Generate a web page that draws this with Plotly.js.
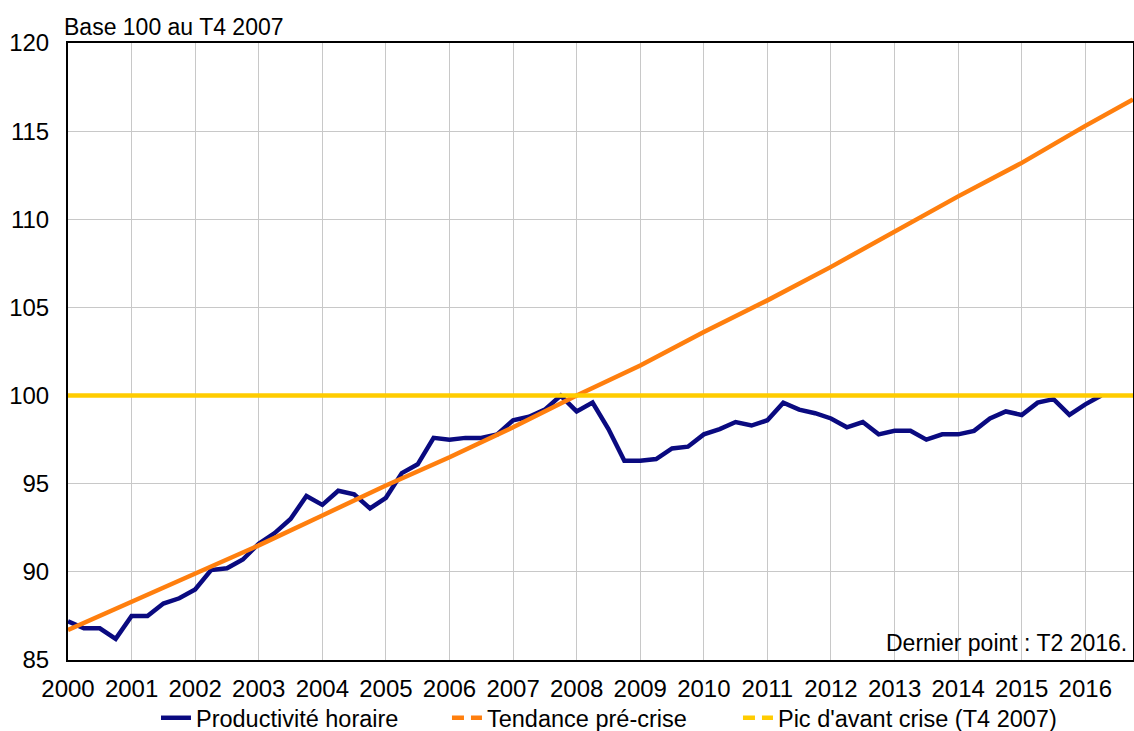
<!DOCTYPE html>
<html>
<head>
<meta charset="utf-8">
<script src="https://cdn.plot.ly/plotly-3.0.1.min.js"></script>
<style>
  html, body { margin: 0; padding: 0; background: #fff; }
  #chart { width: 1134px; height: 731px; }
</style>
</head>
<body>
<div id="chart"></div>
<script>
// ---- Data ----
const years = [2000, 2001, 2002, 2003, 2004, 2005, 2006, 2007, 2008, 2009, 2010, 2011, 2012, 2013, 2014, 2015, 2016];
const quarterNames = ["T1", "T2", "T3", "T4"];

// Productivité horaire, quarterly from T1 2000 to T2 2016 (base 100 = T4 2007)
const productivite = [
  87.2, 86.8, 86.8, 86.2,
  87.5, 87.5, 88.2, 88.5,
  89.0, 90.1, 90.2, 90.7,
  91.6, 92.2, 93.0, 94.3,
  93.8, 94.6, 94.4, 93.6,
  94.2, 95.6, 96.1, 97.6,
  97.5, 97.6, 97.6, 97.8,
  98.6, 98.8, 99.2, 100.0,
  99.1, 99.6, 98.1, 96.3,
  96.3, 96.4, 97.0, 97.1,
  97.8, 98.1, 98.5, 98.3,
  98.6, 99.6, 99.2, 99.0,
  98.7, 98.2, 98.5, 97.8,
  98.0, 98.0, 97.5, 97.8,
  97.8, 98.0, 98.7, 99.1,
  98.9, 99.6, 99.8, 98.9,
  99.5, 100.0
];

// Tendance pré-crise, read at T1 of each year, plus the last point (T4 2016)
const tendanceLabels = ["T1 2000", "T1 2001", "T1 2002", "T1 2003", "T1 2004", "T1 2005", "T1 2006", "T1 2007",
  "T1 2008", "T1 2009", "T1 2010", "T1 2011", "T1 2012", "T1 2013", "T1 2014", "T1 2015", "T1 2016", "T4 2016"];
const tendance = [86.7, 88.3, 89.9, 91.5, 93.2, 94.9, 96.5, 98.2,
  100.0, 101.7, 103.6, 105.4, 107.3, 109.3, 111.3, 113.2, 115.3, 116.8];

// Pic d'avant crise (T4 2007)
const picLabels = ["T1 2000", "T4 2016"];
const pic = [100, 100];

const yTicks = [85, 90, 95, 100, 105, 110, 115, 120];

// ---- Derived categories ----
const quarters = [];
years.forEach(y => quarterNames.forEach(q => quarters.push(q + " " + y)));
const prodX = quarters.slice(0, productivite.length);
const yearTickVals = years.map(y => "T1 " + y);
const yearTickText = years.map(y => String(y));

const FONT = "Liberation Sans, Arial, sans-serif";
const BLUE = "#0a0a80";
const ORANGE = "#ff7f0e";
const YELLOW = "#ffcc00";

const traces = [
  { x: prodX, y: productivite, type: "scatter", mode: "lines", name: "Productivité horaire",
    line: { color: BLUE, width: 4.5 }, showlegend: true },
  { x: tendanceLabels, y: tendance, type: "scatter", mode: "lines", name: "Tendance pré-crise",
    line: { color: ORANGE, width: 4.5 }, showlegend: false },
  { x: picLabels, y: pic, type: "scatter", mode: "lines", name: "Pic d'avant crise (T4 2007)",
    line: { color: YELLOW, width: 4.5 }, showlegend: false },
  // legend entries (dashed samples as in the reference legend)
  { x: [null], y: [null], type: "scatter", mode: "lines", name: "Tendance pré-crise",
    line: { color: ORANGE, width: 4.5, dash: "12px,7px" }, showlegend: true },
  { x: [null], y: [null], type: "scatter", mode: "lines", name: "Pic d'avant crise (T4 2007)",
    line: { color: YELLOW, width: 4.5, dash: "12px,7px" }, showlegend: true, legendwidth: 300 }
];

const layout = {
  width: 1134, height: 731,
  margin: { l: 68, r: 1, t: 43, b: 71, autoexpand: false },
  paper_bgcolor: "#ffffff", plot_bgcolor: "#ffffff",
  font: { family: FONT, size: 24, color: "#000" },
  showlegend: true,
  legend: { orientation: "h", x: 0.0826, xanchor: "left", y: -0.094, yanchor: "middle",
    font: { family: FONT, size: 23.5, color: "#000" }, traceorder: "normal", itemwidth: 30,
    entrywidth: 246, entrywidthmode: "pixels",
    bgcolor: "rgba(0,0,0,0)" },
  xaxis: {
    type: "category", categoryorder: "array", categoryarray: quarters,
    range: [0, quarters.length - 1],
    tickmode: "array", tickvals: yearTickVals, ticktext: yearTickText,
    showgrid: true, gridcolor: "#c8c8c8", gridwidth: 1,
    showline: true, linecolor: "#000", linewidth: 2, mirror: true,
    ticks: "", ticklabelstandoff: 6,
    tickfont: { family: FONT, size: 24, color: "#000" },
    zeroline: false, fixedrange: true
  },
  yaxis: {
    range: [85, 120], tickmode: "array", tickvals: yTicks,
    showgrid: true, gridcolor: "#c8c8c8", gridwidth: 1,
    showline: true, linecolor: "#000", linewidth: 2, mirror: true,
    ticks: "", ticklabelstandoff: 12,
    tickfont: { family: FONT, size: 24, color: "#000" },
    zeroline: false, fixedrange: true
  },
  annotations: [
    { text: "Base 100 au T4 2007", xref: "paper", yref: "paper", x: 0, y: 1,
      xanchor: "left", yanchor: "bottom", xshift: -6, yshift: 1, showarrow: false,
      font: { family: FONT, size: 23, color: "#000" } },
    { text: "Dernier point : T2 2016.", xref: "paper", yref: "paper", x: 1, y: 0,
      xanchor: "right", yanchor: "bottom", xshift: -4, yshift: 2, showarrow: false,
      font: { family: FONT, size: 23, color: "#000" } }
  ]
};

Plotly.newPlot("chart", traces, layout, { displayModeBar: false, staticPlot: true });
</script>
</body>
</html>
